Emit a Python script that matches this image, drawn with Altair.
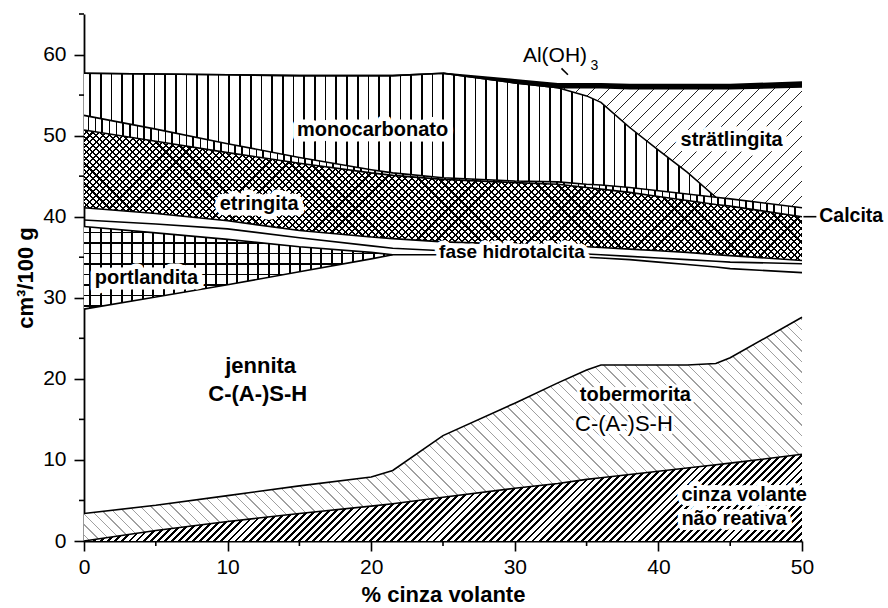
import math
import altair as alt
import pandas as pd

# ---------------- data ----------------
X = [0, 5, 10, 15, 20, 21.5, 25, 30, 33, 35, 36, 38, 40, 42, 44, 45, 50]
ASH_TOP = [0, 1.3, 2.4, 3.4, 4.3, 4.6, 5.4, 6.5, 7.1, 7.6, 7.8, 8.2, 8.6, 9.0, 9.4, 9.6, 10.7]
TOB_TOP = [3.4, 4.4, 5.6, 6.8, 7.9, 8.7, 13.0, 17.0, 19.5, 21.1, 21.7, 21.7, 21.7, 21.7, 21.9, 22.6, 27.6]
JEN_TOP = [28.6, 30.1, 31.6, 33.2, 34.8, 35.3, 35.3, 35.2, 35.1, 35.0, 34.9, 34.7, 34.4, 34.1, 33.8, 33.6, 33.1]
PORT_TOP = [38.8, 38.0, 37.2, 36.3, 35.6, 35.3]
BAND_TOP = [39.6, 39.1, 38.5, 37.4, 36.4, 36.1, 35.8, 35.6, 35.5, 35.4, 35.3, 35.1, 34.9, 34.7, 34.5, 34.4, 34.2]
HT_TOP = [41.1, 40.4, 39.5, 38.3, 37.5, 37.3, 36.9, 36.6, 36.4, 36.3, 36.2, 36.0, 35.8, 35.6, 35.3, 35.2, 34.6]
ETR_TOP = [50.7, 49.3, 47.9, 46.6, 45.4, 45.1, 44.6, 44.2, 44.0, 43.6, 43.4, 43.0, 42.5, 42.0, 41.5, 41.3, 40.0]
CAL_TOP = [52.5, 50.8, 49.0, 47.3, 45.8, 45.4, 44.8, 44.4, 44.3, 44.0, 43.9, 43.6, 43.2, 42.8, 42.4, 42.2, 41.1]
MONO_TOP = [57.7, 57.6, 57.5, 57.4, 57.4, 57.4, 57.7, 56.5, 55.9, 54.9, 54.1, 51.0, 48.2, 45.5, 42.4, 42.2, 41.1]
STR_TOP = [57.7, 57.6, 57.5, 57.4, 57.4, 57.4, 57.7, 56.5, 55.9, 55.9, 55.9, 55.8, 55.8, 55.8, 55.8, 55.8, 56.0]
AL_TOP = [57.7, 57.6, 57.5, 57.4, 57.4, 57.4, 57.7, 56.9, 56.4, 56.4, 56.4, 56.3, 56.3, 56.3, 56.3, 56.3, 56.6]

X_TICKS = [0, 10, 20, 30, 40, 50]
X_MINOR = [5, 15, 25, 35, 45]
Y_TICKS = [0, 10, 20, 30, 40, 50, 60]
Y_MINOR = [5, 15, 25, 35, 45, 55, 65]

LABEL_TEXT = ["monocarbonato", "etringita", "strätlingita", "portlandita"]
LABEL_X = [20.1, 12.2, 45.1, 4.35]
LABEL_Y = [50.75, 41.6, 49.4, 32.5]

ASH_TEXT = ["cinza volante", "não reativa"]
ASH_X = [41.6, 41.6]
ASH_Y = [5.7, 2.7]

HT_TEXT = ["fase hidrotalcita"]
HT_X = [29.8]
HT_Y = [35.6]

JEN_TEXT = ["jennita", "C-(A-)S-H"]
JEN_X = [12.3, 12.1]
JEN_Y = [21.6, 18.1]

TOBER_TEXT = ["tobermorita", "C-(A-)S-H"]
TOBER_X = [38.4, 37.6]
TOBER_Y = [18.0, 14.4]

CALCITA_TEXT = ["Calcita"]
CALCITA_X = [51.2]
CALCITA_Y = [40.05]

AL_TEXT = ["Al(OH)", "3"]
AL_X = [32.8, 35.55]
AL_Y = [59.8, 58.6]

LEADER_X = [50.1, 33.25]
LEADER_X2 = [51.0, 33.7]
LEADER_Y = [40.0, 58.3]
LEADER_Y2 = [40.0, 57.5]

# ---------------- layout ----------------
W_PLOT, H_PLOT = 718, 527
X_DOM, Y_DOM = [0, 50], [0, 65]
SX = W_PLOT / (X_DOM[1] - X_DOM[0])
SY = H_PLOT / (Y_DOM[1] - Y_DOM[0])
FONT = "Liberation Sans"
MINOR_PX = 5

XS = alt.Scale(domain=X_DOM, nice=False, zero=False)
YS = alt.Scale(domain=Y_DOM, nice=False, zero=False)


def band(lo, hi, i0, i1):
    return pd.DataFrame({"x": X[i0:i1 + 1], "lo": lo[i0:i1 + 1], "hi": hi[i0:i1 + 1]})


def hatch(df, kind, period, lw, color, bg):
    W = (df.x.max() - df.x.min()) * SX
    H = (df.hi.max() - df.lo.min()) * SY
    if kind == "v":
        coords = dict(x1=0, y1=0, x2=1, y2=0)
        L = W
    elif kind == "h":
        coords = dict(x1=0, y1=0, x2=0, y2=1)
        L = H
    else:
        k = (W + H) / (W * W + H * H)
        if kind == "/":
            coords = dict(x1=0, y1=0, x2=k * W, y2=k * H)
        else:
            coords = dict(x1=0, y1=1, x2=k * W, y2=1 - k * H)
        L = (W + H) / math.sqrt(2)
    stops = [(0.0, bg)]
    i = 0
    while True:
        s = (i + 0.5) * period / L
        if s >= 1:
            break
        e = min(s + lw / L, 1.0)
        stops += [(s, bg), (s, color), (e, color), (e, bg)]
        i += 1
    stops.append((1.0, bg))
    return alt.Gradient(
        gradient="linear",
        stops=[alt.GradientStop(offset=round(o, 6), color=c) for o, c in stops],
        **{k2: round(v, 6) for k2, v in coords.items()},
    )


def area(df, fill):
    return alt.Chart(df).mark_area(fill=fill, interpolate="linear").encode(
        x=alt.X("x:Q", scale=XS, axis=None),
        y=alt.Y("lo:Q", scale=YS, axis=None),
        y2="hi:Q",
    )


ZERO = [0] * len(X)
PORT_FULL = PORT_TOP + JEN_TOP[len(PORT_TOP):]
d_ash = band(ZERO, ASH_TOP, 0, 16)
d_tob = band(ASH_TOP, TOB_TOP, 0, 16)
d_port = band(JEN_TOP, PORT_FULL, 0, 5)
d_etr = band(HT_TOP, ETR_TOP, 0, 16)
d_cal = band(ETR_TOP, CAL_TOP, 0, 16)
d_mono = band(CAL_TOP, MONO_TOP, 0, 14)
d_str = band(MONO_TOP, STR_TOP, 8, 16)
d_al = band(STR_TOP, AL_TOP, 6, 16)

CLEAR = "rgba(255,255,255,0)"
layers = [
    area(d_ash, hatch(d_ash, "/", 5.0, 2.0, "black", "white")),
    area(d_tob, hatch(d_tob, "\\", 7.5, 1.0, "#a0a0a0", "white")),
    area(d_port, hatch(d_port, "v", 10.5, 1.8, "black", "white")),
    area(d_port, hatch(d_port, "h", 10.5, 1.8, "black", CLEAR)),
    area(d_etr, hatch(d_etr, "/", 4.7, 1.5, "black", "white")),
    area(d_etr, hatch(d_etr, "\\", 4.7, 1.5, "black", CLEAR)),
    area(d_cal, hatch(d_cal, "v", 7.0, 1.6, "black", "white")),
    area(d_mono, hatch(d_mono, "v", 10.7, 1.7, "black", "white")),
    area(d_str, hatch(d_str, "/", 10.6, 1.1, "#222222", "white")),
    area(d_al, "black"),
]

# boundary lines
line_rows = []


def add_line(name, ys, i0, i1):
    for xv, yv in zip(X[i0:i1 + 1], ys[i0:i1 + 1]):
        line_rows.append({"x": xv, "y": yv, "b": name})


add_line("ash", ASH_TOP, 0, 16)
add_line("tob", TOB_TOP, 0, 16)
add_line("jen", JEN_TOP, 0, 16)
add_line("port", PORT_FULL, 0, 5)
add_line("band", BAND_TOP, 0, 16)
add_line("ht", HT_TOP, 0, 16)
add_line("etr", ETR_TOP, 0, 16)
add_line("cal", CAL_TOP, 0, 16)
add_line("mono", MONO_TOP, 0, 14)
add_line("str", STR_TOP, 6, 16)
add_line("al", AL_TOP, 0, 16)
layers.append(alt.Chart(pd.DataFrame(line_rows)).mark_line(color="black", strokeWidth=1.6).encode(
    x=alt.X("x:Q", scale=XS, axis=None),
    y=alt.Y("y:Q", scale=YS, axis=None),
    detail="b:N",
))

# leader lines of the annotations
lead_df = pd.DataFrame({"x": LEADER_X, "x2": LEADER_X2, "y": LEADER_Y, "y2": LEADER_Y2})
layers.append(alt.Chart(lead_df).mark_rule(color="black", strokeWidth=1.6).encode(
    x=alt.X("x:Q", scale=XS, axis=None), x2="x2:Q",
    y=alt.Y("y:Q", scale=YS, axis=None), y2="y2:Q"))

# minor ticks (short, outward)
mx = pd.DataFrame({"x": X_MINOR, "y": [0] * len(X_MINOR), "y2": [-MINOR_PX / SY] * len(X_MINOR)})
layers.append(alt.Chart(mx).mark_rule(color="black", strokeWidth=1.6).encode(
    x=alt.X("x:Q", scale=XS, axis=None), y=alt.Y("y:Q", scale=YS, axis=None), y2="y2:Q"))
my = pd.DataFrame({"y": Y_MINOR, "x": [0] * len(Y_MINOR), "x2": [-MINOR_PX / SX] * len(Y_MINOR)})
layers.append(alt.Chart(my).mark_rule(color="black", strokeWidth=1.6).encode(
    x=alt.X("x:Q", scale=XS, axis=None), x2="x2:Q", y=alt.Y("y:Q", scale=YS, axis=None)))


def text_layer(xs, ys, ts, size, weight, align="center", halo=0):
    df = pd.DataFrame({"x": xs, "y": ys, "t": ts})
    enc = dict(x=alt.X("x:Q", scale=XS, axis=None), y=alt.Y("y:Q", scale=YS, axis=None), text="t:N")
    out = []
    if halo:
        out.append(alt.Chart(df).mark_text(font=FONT, fontSize=size, fontWeight=weight, align=align,
                                           baseline="middle", fill="white", stroke="white",
                                           strokeWidth=halo, strokeJoin="round").encode(**enc))
    out.append(alt.Chart(df).mark_text(font=FONT, fontSize=size, fontWeight=weight, align=align,
                                       baseline="middle", color="black").encode(**enc))
    return out


layers += text_layer(LABEL_X, LABEL_Y, LABEL_TEXT, 20, "bold", halo=11)
layers += text_layer(HT_X, HT_Y, HT_TEXT, 19, "bold", halo=9)
layers += text_layer(ASH_X, ASH_Y, ASH_TEXT, 20, "bold", align="left", halo=10)
layers += text_layer(JEN_X, JEN_Y, JEN_TEXT, 22, "bold")
layers += text_layer(TOBER_X[:1], TOBER_Y[:1], TOBER_TEXT[:1], 20, "bold", halo=6)
layers += text_layer(TOBER_X[1:], TOBER_Y[1:], TOBER_TEXT[1:], 22, "normal", halo=6)
layers += text_layer(CALCITA_X, CALCITA_Y, CALCITA_TEXT, 19.5, "bold", align="left")
layers += text_layer(AL_X[:1], AL_Y[:1], AL_TEXT[:1], 21, "normal")
layers += text_layer(AL_X[1:], AL_Y[1:], AL_TEXT[1:], 14, "normal")

# axes (major ticks, labelled)
axis_common = dict(domainColor="black", tickColor="black", labelColor="black", titleColor="black",
                   domainWidth=1.8, tickWidth=1.6, tickSize=10, grid=False, labelFont=FONT,
                   titleFont=FONT, labelFontSize=21, titleFontSize=22, titleFontWeight="bold",
                   labelFlush=False, offset=0)
axes_layer = alt.Chart(pd.DataFrame({"x": X_TICKS[:1], "y": Y_TICKS[:1]})).mark_point(opacity=0).encode(
    x=alt.X("x:Q", scale=XS, axis=alt.Axis(values=X_TICKS, title="% cinza volante", labelPadding=5,
                                          titlePadding=7, format="d", orient="bottom", **axis_common)),
    y=alt.Y("y:Q", scale=YS, axis=alt.Axis(values=Y_TICKS, title="cm³/100 g", labelPadding=8,
                                          titlePadding=5, format="d", orient="left", **axis_common)),
)

chart = alt.layer(*layers, axes_layer).resolve_axis(x="independent", y="independent").properties(
    width=W_PLOT, height=H_PLOT,
    autosize=alt.AutoSizeParams(type="none"),
    padding={"left": 84, "top": 14, "right": 86, "bottom": 67},
    background="white",
).configure_view(strokeWidth=0)

chart.save("out.html", embed_options={"renderer": "svg", "actions": False})
